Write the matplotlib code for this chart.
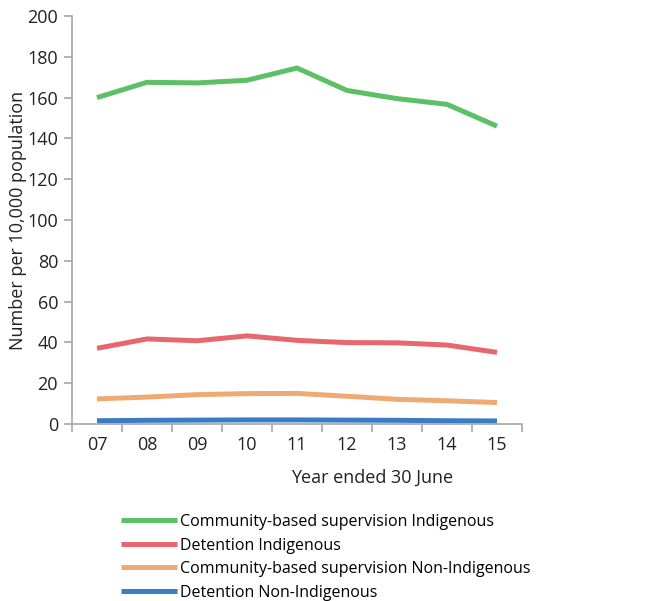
import matplotlib.pyplot as plt
import numpy as np

# Year ended 30 June
years = ["07", "08", "09", "10", "11", "12", "13", "14", "15"]

comm_indig = [160.0, 167.5, 167.2, 168.5, 174.5, 163.5, 159.5, 156.7, 146.0]
det_indig = [37.1, 41.7, 40.8, 43.2, 41.0, 39.9, 39.8, 38.7, 35.1]
comm_non = [12.3, 13.2, 14.4, 14.9, 15.0, 13.6, 12.1, 11.4, 10.5]
det_non = [1.6, 1.8, 1.9, 2.0, 2.0, 1.9, 1.8, 1.6, 1.5]

labels = ["Community-based supervision Indigenous", "Detention Indigenous",
          "Community-based supervision Non-Indigenous", "Detention Non-Indigenous"]
colors = ["#5dbf66", "#e8676e", "#efaa74", "#3b7cc6"]

plt.rcParams['font.family'] = ['Open Sans', 'DejaVu Sans']

fig = plt.figure(figsize=(6.5, 6.01), dpi=100)
ax = fig.add_axes([72 / 650, 1 - 424 / 601, 450 / 650, 408 / 601])

x = np.arange(len(years))
for vals, lab, col in zip([comm_indig, det_indig, comm_non, det_non], labels, colors):
    ax.plot(x, vals, color=col, linewidth=3.6, label=lab, solid_capstyle='butt')

ax.set_xlim(-0.5, len(years) - 0.5)
ax.set_ylim(0, 200)
ax.set_yticks(range(0, 201, 20))
ax.set_xticks(x)
ax.set_xticklabels(years)
ax.set_xticks(np.arange(-0.5, len(years)), minor=True)
ax.tick_params(axis='x', which='major', length=0, pad=9, labelsize=13, colors='#222222')
ax.tick_params(axis='x', which='minor', length=6, color='#a6a6a6', width=1.2)
ax.tick_params(axis='y', length=6, color='#a6a6a6', width=1.2, labelsize=13, labelcolor='#222222', pad=4)

for s in ['top', 'right']:
    ax.spines[s].set_visible(False)
for s in ['left', 'bottom']:
    ax.spines[s].set_color('#a6a6a6')
    ax.spines[s].set_linewidth(1.2)

ax.set_xlabel("Year ended 30 June", fontsize=13, color='#222222')
ax.xaxis.set_label_coords(0.667, -0.11)
ax.set_ylabel("Number per 10,000 population", fontsize=13, color='#222222')
ax.yaxis.set_label_coords(-0.1, 0.5)

fig.legend(loc='upper left', bbox_to_anchor=(121 / 650, 1 - 514 / 601), frameon=False,
           fontsize=11.5, handlelength=3.5, handletextpad=0.2, labelspacing=0.47,
           borderaxespad=0, borderpad=0)

fig.savefig("out.png", dpi=100)
